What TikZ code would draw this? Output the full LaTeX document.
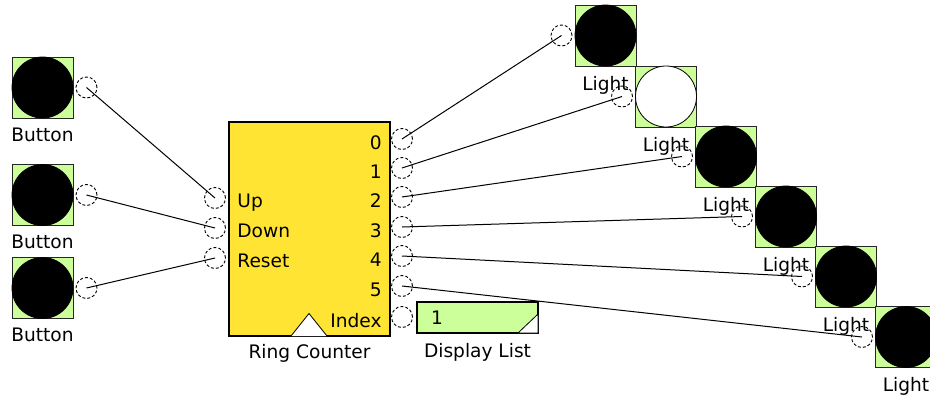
\documentclass[tikz,border=0pt]{standalone}
\usepackage{fontspec}
\setmainfont{DejaVu Sans}
\usetikzlibrary{positioning}
\definecolor{blkgreen}{RGB}{204,255,153}
\definecolor{blkyellow}{RGB}{255,228,51}
\tikzset{
  tilebox/.style={draw=black!85,fill=blkgreen,minimum size=30.5pt,inner sep=0pt,line width=.5pt},
  lamp/.style={circle,draw=black,minimum size=30.5pt,inner sep=0pt,line width=.4pt},
  port/.style={circle,draw=black,dash pattern=on 1.5pt off 1pt,minimum size=10.5pt,inner sep=0pt,line width=.45pt},
  counterbox/.style={draw=black,fill=blkyellow,minimum width=80.5pt,minimum height=107pt,inner sep=0pt,line width=.6pt},
  listbox/.style={draw=black,fill=blkgreen,minimum width=60.5pt,minimum height=15.5pt,inner sep=0pt,line width=.6pt},
  lbl/.style={inner sep=1pt},
  pinlbl/.style={inner sep=1pt,text height=7pt,text depth=0pt},
  wire/.style={line width=.5pt},
}
\newcommand{\buttonblock}[3]{%
  \node[tilebox] (#1) at (#2,#3) {};
  \node[lamp,fill=black] (#1lamp) at (#1) {};
  \node[lbl,below=3.5pt of #1] (#1lbl) {Button};
  \node[port] (#1out) at ({#2+44},#3) {};
}
\newcommand{\lightblock}[4]{%
  \node[tilebox] (#1) at (#2,#3) {};
  \node[lamp,fill=#4] (#1lamp) at (#1) {};
  \node[lbl,below=3.5pt of #1] (#1lbl) {Light};
  \node[port] (#1in) at ({#2-44},#3) {};
}

\begin{document}
\begin{tikzpicture}[x=.5pt,y=-.5pt,font=\fontsize{9.3}{11}\selectfont]
  \useasboundingbox (0,0) rectangle (930,396);
  % buttons
  \buttonblock{btnup}{42.5}{87.5}
  \buttonblock{btndown}{42.5}{195}
  \buttonblock{btnreset}{42.5}{288}
  % ring counter
  \node[counterbox] (ring) at (309.5,229) {};
  \draw[fill=white,line width=.4pt] (291,336) -- (309,313.5) -- (327,336);
  \node[lbl,below=2.5pt of ring] (ringlbl) {Ring Counter};
  \foreach \pin/\txt/\yy in {up/Up/198,down/Down/228,reset/Reset/258}{
    \node[pinlbl,anchor=west] (ring\pin lbl) at (235,\yy+2) {\txt};
    \node[port] (ring\pin) at (215,\yy) {};
  }
  \foreach \q/\yy in {0/139,1/168,2/197,3/227,4/256,5/286}{
    \node[pinlbl,anchor=east] (ringq\q lbl) at (384,\yy+3) {\q};
    \node[port] (ringq\q) at (402,\yy) {};
  }
  \node[pinlbl,anchor=east] (ringidxlbl) at (384,320) {Index};
  \node[port] (ringidx) at (402,317) {};
  % display list
  \node[listbox] (dlist) at (477.5,317.5) {};
  \node[lbl] (dlistval) at (437,318) {1};
  \draw[fill=white,line width=.4pt] (538,314) -- (538,333) -- (518,333) -- cycle;
  \node[lbl,below=3.5pt of dlist] (dlistlbl) {Display List};
  % lights
  \lightblock{light0}{605.5}{35.5}{black}
  \lightblock{light1}{666}{96.5}{white}
  \lightblock{light2}{726}{156.5}{black}
  \lightblock{light3}{786}{216.5}{black}
  \lightblock{light4}{846}{276.5}{black}
  \lightblock{light5}{906}{337}{black}
  % wires
  \foreach \src/\dst in {btnupout/ringup,btndownout/ringdown,btnresetout/ringreset}
    \draw[wire] (\src.center) -- (\dst.center);
  \foreach \q in {0,...,5}
    \draw[wire] (ringq\q.center) -- (light\q in.center);
\end{tikzpicture}
\end{document}
